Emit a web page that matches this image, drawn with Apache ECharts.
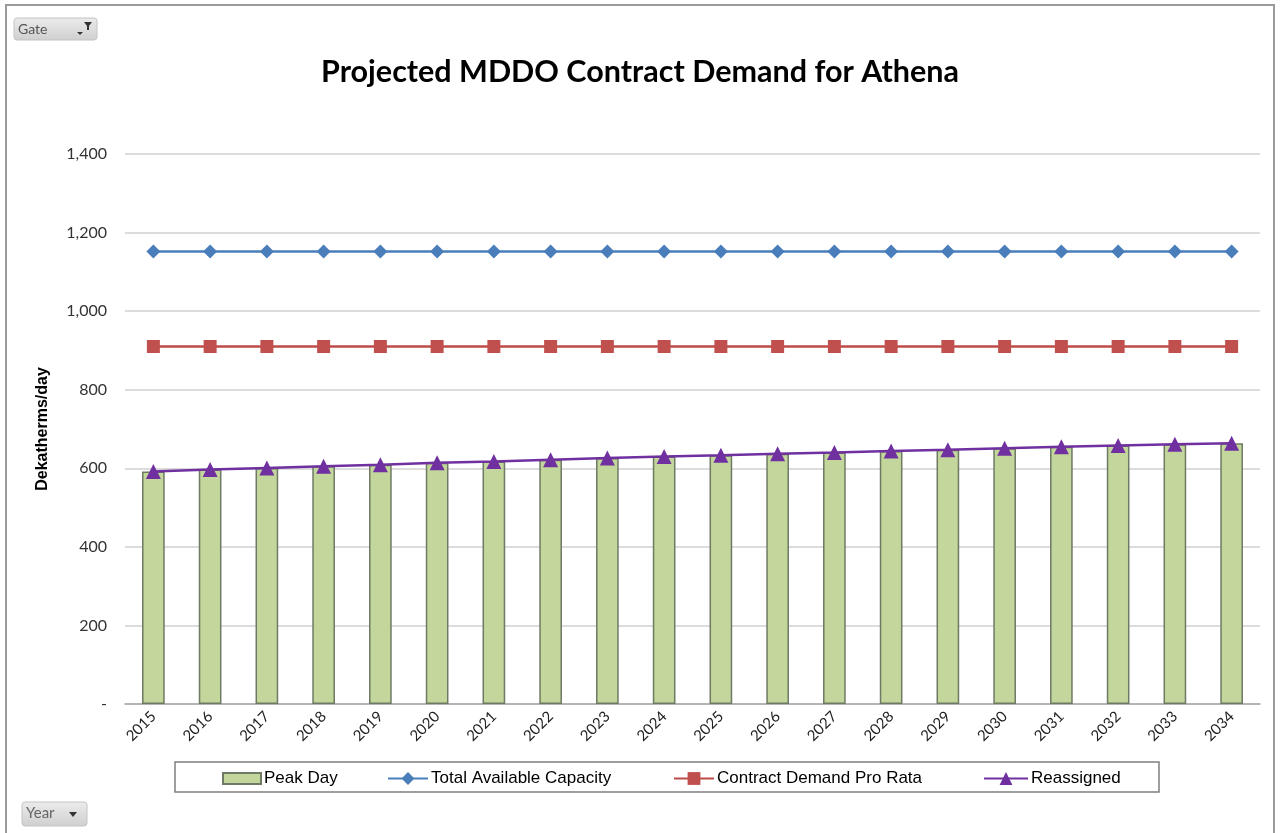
<!DOCTYPE html>
<html>
<head>
<meta charset="utf-8">
<script src="https://cdn.jsdelivr.net/npm/echarts@6/dist/echarts.min.js"></script>
<style>
html,body{margin:0;padding:0;background:#fff;}
#c{width:1280px;height:833px;}
</style>
</head>
<body>
<div id="c"></div>
<script>
const years = ['2015','2016','2017','2018','2019','2020','2021','2022','2023','2024','2025','2026','2027','2028','2029','2030','2031','2032','2033','2034'];
const peakDay = [592,597,601,605,609,614,617,622,626,630,633,637,640,644,647,651,655,658,661,664];
const totalCapacity = [1152,1152,1152,1152,1152,1152,1152,1152,1152,1152,1152,1152,1152,1152,1152,1152,1152,1152,1152,1152];
const contractProRata = [910,910,910,910,910,910,910,910,910,910,910,910,910,910,910,910,910,910,910,910];
const reassigned = [592,597,601,605,609,614,617,622,626,630,633,637,640,644,647,651,655,658,661,664];
const yTicks = [0,200,400,600,800,1000,1200,1400];

const chart = echarts.init(document.getElementById('c'));
const legendText = {fontFamily:'Liberation Sans', fontSize:17, color:'#000', padding:[0,0,0,-2]};
chart.setOption({
  animation:false,
  title:{text:'Projected MDDO Contract Demand for Athena', left:'center', top:52,
    textStyle:{fontFamily:'Lato', fontWeight:'bold', fontSize:30.5, color:'#000'}},
  grid:{left:125, right:20, top:154, bottom:129},
  xAxis:{type:'category', data:years,
    axisLine:{lineStyle:{color:'#a6a6a6', width:1.5}},
    axisTick:{show:false},
    axisLabel:{rotate:45, fontFamily:'Lato', fontSize:15, color:'#222', margin:10}},
  yAxis:{type:'value', min:yTicks[0], max:yTicks[yTicks.length-1], interval:200,
    name:'Dekatherms/day', nameLocation:'middle', nameGap:74,
    nameTextStyle:{fontFamily:'Liberation Sans', fontWeight:'bold', fontSize:16, color:'#000'},
    axisLine:{show:false}, axisTick:{show:false},
    splitLine:{lineStyle:{color:'#d0d0d0', width:1.5}},
    axisLabel:{fontFamily:'Lato', fontSize:16, color:'#333', margin:18,
      formatter:v => v===0 ? '-' : v.toLocaleString('en-US')}},
  legend:[
    {left:217, top:765, itemWidth:38, itemHeight:11, itemGap:0, icon:'rect', textStyle:legendText, data:['Peak Day'], selectedMode:false},
    {left:382, top:765, itemWidth:40, itemHeight:16, textStyle:legendText, data:['Total Available Capacity'], selectedMode:false},
    {left:668, top:765, itemWidth:40, itemHeight:16, textStyle:legendText, data:['Contract Demand Pro Rata'], selectedMode:false},
    {left:978, top:765, itemWidth:44, itemHeight:16, textStyle:legendText, data:['Reassigned'], selectedMode:false}
  ],
  graphic:[
    {type:'rect', shape:{x:6,y:5,width:1268,height:850}, style:{fill:'none', stroke:'#9a9a9a', lineWidth:2}, silent:true},
    {type:'rect', shape:{x:175,y:762,width:984,height:30}, style:{fill:'none', stroke:'#7f7f7f', lineWidth:1.5}, silent:true},
    {type:'rect', shape:{x:14,y:18,width:83,height:22,r:3},
      style:{fill:new echarts.graphic.LinearGradient(0,0,0,1,[{offset:0,color:'#ececec'},{offset:1,color:'#cfcfcf'}]), stroke:'#c4c4c4', lineWidth:1}},
    {type:'text', x:18, y:22, style:{text:'Gate', fontFamily:'Lato', fontSize:14, fill:'#555'}},
    {type:'polygon', shape:{points:[[77,32],[83,32],[80,35]]}, style:{fill:'#333'}},
    {type:'polygon', shape:{points:[[84,22],[92,22],[89,26],[89,30],[87,30],[87,26]]}, style:{fill:'#333'}},
    {type:'rect', shape:{x:22,y:802,width:65,height:24,r:3},
      style:{fill:new echarts.graphic.LinearGradient(0,0,0,1,[{offset:0,color:'#ececec'},{offset:1,color:'#cfcfcf'}]), stroke:'#c4c4c4', lineWidth:1}},
    {type:'text', x:26, y:806, style:{text:'Year', fontFamily:'Lato', fontSize:15, fill:'#666'}},
    {type:'polygon', shape:{points:[[69,812],[77,812],[73,817]]}, style:{fill:'#333'}}
  ],
  series:[
    {name:'Peak Day', type:'bar', data:peakDay, barWidth:'40%',
      itemStyle:{color:'#c3d69b', borderColor:'#6f7a64', borderWidth:1.5}},
    {name:'Total Available Capacity', type:'line', data:totalCapacity,
      symbol:'diamond', symbolSize:14, lineStyle:{color:'#4a7ebb', width:2.5}, itemStyle:{color:'#4a7ebb'}},
    {name:'Contract Demand Pro Rata', type:'line', data:contractProRata,
      symbol:'rect', symbolSize:13, lineStyle:{color:'#be4b48', width:2.5}, itemStyle:{color:'#c0504d'}},
    {name:'Reassigned', type:'line', data:reassigned,
      symbol:'triangle', symbolSize:15, lineStyle:{color:'#7030a0', width:2.5}, itemStyle:{color:'#7030a0'}}
  ]
});
</script>
</body>
</html>
